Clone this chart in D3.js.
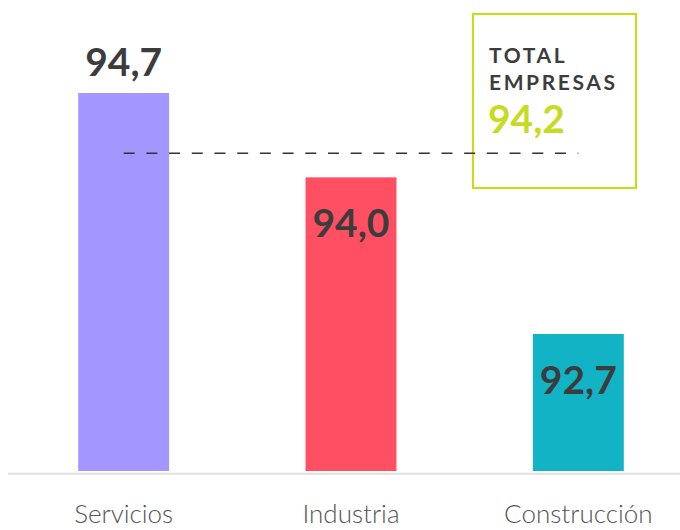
<!DOCTYPE html>
<html>
<head>
<meta charset="utf-8">
<script src="https://cdn.jsdelivr.net/npm/d3@7"></script>
<style>
  html, body { margin: 0; padding: 0; background: #fff; }
  #chart { width: 680px; height: 530px; }
  .value { font-family: Lato, sans-serif; font-weight: 700; font-size: 39px; fill: #3c3c3c; }
  .cat { font-family: Lato, sans-serif; font-weight: 300; font-size: 26px; fill: #555; }
  .boxtitle { font-family: Lato, sans-serif; font-weight: 700; font-size: 21px; fill: #3c3c3c; letter-spacing: 2.6px; }
  .boxvalue { font-family: Lato, sans-serif; font-weight: 700; font-size: 39px; fill: #c6dc23; }
</style>
</head>
<body>
<div id="chart"></div>
<script>
// data
const categories = ["Servicios", "Industria", "Construcción"];
const values = [94.7, 94.0, 92.7];
const barColors = ["#a397ff", "#ff4f62", "#13b3c6"];
const totalLabel = ["TOTAL", "EMPRESAS"];
const totalValue = 94.2;

const fmt = v => d3.format(".1f")(v).replace(".", ",");

const width = 680, height = 530;
const svg = d3.select("#chart").append("svg")
    .attr("width", width).attr("height", height);

const x = d3.scaleBand()
    .domain(categories)
    .range([10, 692])
    .paddingInner(0.6)
    .paddingOuter(0.3);

const y = d3.scaleLinear()
    .domain([91.563, 95.472])
    .range([471, 0]);

// baseline
svg.append("line")
    .attr("x1", 8).attr("x2", width)
    .attr("y1", 473.8).attr("y2", 473.8)
    .attr("stroke", "#e0e0e0")
    .attr("stroke-width", 2);

// bars
svg.append("g")
    .selectAll("rect")
    .data(values)
    .enter().append("rect")
    .attr("x", (d, i) => x(categories[i]))
    .attr("y", d => y(d))
    .attr("width", x.bandwidth())
    .attr("height", d => y.range()[0] - y(d))
    .attr("fill", (d, i) => barColors[i]);

// total box
const bx = 473, by = 14;
svg.append("rect")
    .attr("x", bx).attr("y", by)
    .attr("width", 163).attr("height", 174)
    .attr("fill", "none")
    .attr("stroke", "#c6dc23")
    .attr("stroke-width", 2.2);

svg.append("g")
    .selectAll("text")
    .data(totalLabel)
    .enter().append("text")
    .attr("class", "boxtitle")
    .attr("x", bx + 16)
    .attr("y", (d, i) => by + 49 + i * 27)
    .text(d => d);

svg.append("text")
    .attr("class", "boxvalue")
    .attr("x", bx + 15)
    .attr("y", by + 119)
    .text(fmt(totalValue));

// dashed average line
svg.append("line")
    .attr("x1", x(categories[0]) + x.bandwidth() / 2)
    .attr("x2", x(categories[2]) + x.bandwidth() / 2)
    .attr("y1", y(totalValue)).attr("y2", y(totalValue))
    .attr("stroke", "#333")
    .attr("stroke-width", 1.5)
    .attr("stroke-dasharray", "11,11.7");

// value labels: first one sits above the bar, others inside
svg.append("g")
    .selectAll("text")
    .data(values)
    .enter().append("text")
    .attr("class", "value")
    .attr("text-anchor", "middle")
    .attr("x", (d, i) => x(categories[i]) + x.bandwidth() / 2)
    .attr("y", (d, i) => i === 0 ? y(d) - 17 : y(d) + 60)
    .text(d => fmt(d));

// category labels
svg.append("g")
    .selectAll("text")
    .data(categories)
    .enter().append("text")
    .attr("class", "cat")
    .attr("text-anchor", "middle")
    .attr("x", d => x(d) + x.bandwidth() / 2)
    .attr("y", 523)
    .text(d => d);
</script>
</body>
</html>
